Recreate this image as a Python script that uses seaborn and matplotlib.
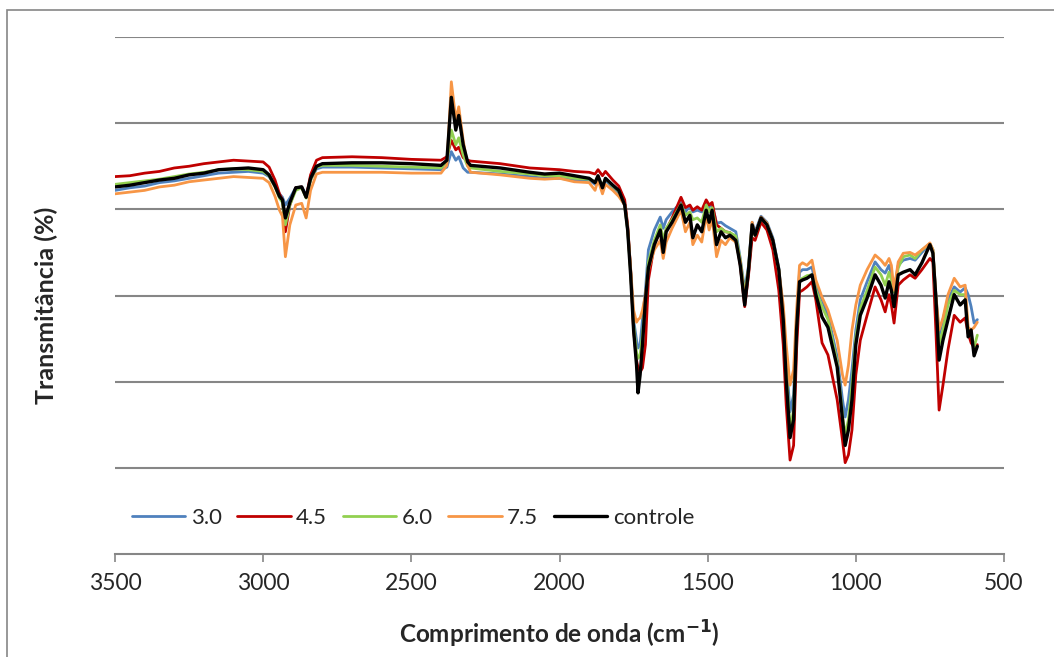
import matplotlib
matplotlib.use("Agg")
import matplotlib.pyplot as plt
import matplotlib.patches as mpatches
import seaborn as sns
import pandas as pd

wavenumber = [3500,3450,3400,3350,3300,3250,3200,3150,3100,3050,
              3000,2980,2960,2945,2935,2925,2910,2890,2870,2855,
              2840,2820,2800,2700,2600,2500,2400,2380,2365,2350,
              2340,2325,2310,2300,2200,2100,2050,2000,1950,1900,
              1880,1870,1855,1845,1820,1800,1780,1770,1760,1750,
              1740,1735,1728,1720,1710,1700,1680,1660,1650,1640,
              1620,1590,1575,1560,1550,1535,1520,1505,1495,1485,
              1470,1455,1440,1425,1405,1390,1375,1362,1350,1340,
              1320,1300,1280,1260,1245,1235,1222,1210,1200,1190,
              1180,1165,1148,1135,1114,1094,1063,1045,1036,1025,
              1013,1000,985,962,935,915,901,888,880,871,
              857,840,817,800,777,750,740,730,719,706,
              689,668,648,631,621,611,601,590]

t_3_0 = [42.2,42.5,42.7,43.1,43.3,43.6,43.9,44.2,44.3,44.4,
         44.2,43.8,42.7,41.8,41.4,40.5,41.3,42.5,42.6,41.7,
         43.4,44.7,44.9,44.9,44.8,44.7,44.6,44.9,46.7,45.7,
         46.1,44.8,44.3,44.3,44.1,43.8,43.6,43.6,43.4,43.4,
         42.9,43.6,42.2,43.4,42.5,41.9,40.5,37.6,33.0,27.2,
         24.8,23.9,24.3,27.2,30.6,35.3,37.6,39.1,37.8,38.8,
         39.7,40.8,39.7,40.4,39.7,39.9,39.7,40.8,40.3,40.5,
         38.4,38.5,38.1,37.8,37.4,34.3,30.6,33.5,38.5,37.4,
         39.2,38.5,36.7,33.2,28.1,22.5,16.5,18.5,27.2,32.7,
         33.0,33.0,33.3,31.2,29.5,27.7,22.9,17.9,15.9,17.9,
         21.4,26.0,29.5,31.6,33.9,33.0,32.6,33.5,32.4,30.6,
         33.5,34.1,34.3,34.1,35.0,36.0,35.3,30.1,25.4,27.2,
         29.5,31.0,30.4,30.9,30.1,28.7,26.8,27.2]

t_4_5 = [43.8,43.9,44.2,44.4,44.8,45.0,45.3,45.5,45.7,45.6,
         45.5,44.9,43.4,41.8,41.1,37.4,40.5,42.5,42.6,41.4,
         44.0,45.7,46.0,46.1,46.0,45.8,45.7,46.1,48.0,46.9,
         47.2,46.0,45.7,45.6,45.3,44.8,44.7,44.6,44.4,44.3,
         44.1,44.6,43.9,44.4,43.4,42.7,41.1,38.2,33.0,26.0,
         22.5,21.6,21.1,21.6,24.3,31.8,35.9,37.4,35.9,37.6,
         39.0,41.4,40.2,40.5,39.9,40.3,39.9,41.1,40.5,40.8,
         38.2,37.8,37.4,37.3,36.7,33.5,28.7,32.4,36.7,36.4,
         38.5,37.6,35.3,30.6,24.3,17.3,10.9,12.6,23.7,30.4,
         30.6,31.0,31.6,29.5,24.5,23.1,17.9,13.2,10.6,11.5,
         14.4,20.8,24.8,27.7,31.0,29.5,28.1,30.1,28.9,26.8,
         31.2,31.8,32.4,32.0,33.0,34.3,33.9,26.0,16.7,19.6,
         23.7,27.7,26.9,27.4,25.6,24.5,24.0,24.3]

t_6_0 = [42.9,43.1,43.3,43.5,43.8,44.1,44.3,44.6,44.7,44.6,
         44.4,43.9,42.6,41.3,40.8,38.2,40.5,42.2,42.5,41.3,
         43.4,44.9,45.1,45.1,45.0,44.9,44.8,45.5,49.2,47.5,
         48.3,46.3,45.0,44.8,44.4,44.1,43.9,43.9,43.6,43.5,
         43.2,43.8,42.7,43.6,42.7,42.1,40.5,37.6,32.7,26.6,
         23.4,22.7,23.1,25.4,29.5,33.9,36.4,38.2,36.4,37.8,
         38.8,40.6,39.3,39.7,38.8,39.0,38.5,40.5,39.7,40.2,
         37.4,37.8,37.4,37.3,36.9,34.1,30.1,33.2,38.2,37.0,
         39.0,38.3,36.4,33.0,27.4,21.4,14.4,16.7,26.6,31.8,
         32.0,32.3,32.4,30.6,28.7,27.2,22.2,16.1,13.8,15.6,
         19.6,25.1,28.5,30.6,33.3,32.4,31.2,32.7,31.8,30.4,
         33.2,34.5,34.7,34.3,35.3,36.0,35.3,29.7,24.3,26.0,
         28.9,30.6,30.1,30.1,26.0,25.6,24.0,25.4]

t_7_5 = [41.8,42.0,42.2,42.6,42.8,43.2,43.4,43.6,43.8,43.7,
         43.6,43.1,41.5,39.9,39.2,34.5,38.2,40.5,40.7,39.0,
         42.2,44.1,44.3,44.3,44.3,44.2,44.2,45.1,54.8,50.4,
         51.9,48.0,45.1,44.3,44.0,43.6,43.5,43.6,43.2,43.1,
         42.2,43.4,41.8,42.9,42.2,41.5,40.5,37.8,33.2,28.3,
         26.9,27.2,27.4,28.3,30.1,33.0,35.3,36.4,34.3,36.2,
         37.8,39.9,37.4,38.5,35.9,37.0,36.2,39.3,37.6,39.0,
         34.5,36.4,35.9,36.7,36.2,33.9,29.5,33.0,38.5,37.0,
         39.1,38.4,36.4,33.0,28.9,24.3,19.6,21.4,28.3,33.5,
         33.8,33.5,34.1,31.8,29.8,28.3,24.8,20.8,19.6,21.9,
         26.0,28.9,31.2,33.0,34.7,34.1,33.5,34.3,33.5,30.6,
         33.9,34.9,35.0,34.7,35.3,36.1,35.3,30.1,26.0,27.4,
         30.1,32.0,31.0,31.2,26.3,26.0,26.3,26.9]

t_controle = [42.6,42.8,43.1,43.4,43.6,44.0,44.2,44.6,44.7,44.8,
              44.6,44.0,42.7,41.5,41.1,39.0,40.8,42.5,42.6,41.4,
              43.6,45.0,45.3,45.4,45.4,45.3,45.1,45.7,53.0,49.2,
              50.9,47.5,45.5,45.1,44.8,44.3,44.1,44.2,43.9,43.6,
              43.1,43.9,42.5,43.6,42.8,42.2,40.5,37.6,32.4,26.0,
              21.9,18.7,20.8,24.3,29.5,33.2,35.9,37.6,35.0,37.4,
              38.5,40.5,38.5,39.3,36.7,38.2,37.4,39.9,38.5,39.9,
              35.9,37.4,36.7,37.0,36.4,33.5,28.9,33.0,38.2,37.0,
              39.0,38.2,36.4,33.0,27.2,20.2,13.5,15.6,26.0,31.6,
              31.8,32.0,32.4,30.1,27.5,26.3,21.7,15.6,12.6,14.4,
              17.9,24.3,27.7,29.7,32.4,31.2,29.7,31.6,30.6,28.7,
              32.4,32.7,33.0,32.4,33.8,35.9,34.9,29.8,22.5,24.8,
              27.2,30.1,28.9,29.5,25.2,26.0,23.0,24.1]

series_labels = ["3.0", "4.5", "6.0", "7.5", "controle"]
series_values = [t_3_0, t_4_5, t_6_0, t_7_5, t_controle]
series_colors = ["#4F81BD", "#C00000", "#92D050", "#F79646", "#000000"]
x_ticks = [3500, 3000, 2500, 2000, 1500, 1000, 500]

frames = []
for lab, vals in zip(series_labels, series_values):
    frames.append(pd.DataFrame({"wn": wavenumber, "T": vals, "serie": lab}))
df = pd.concat(frames, ignore_index=True)

sns.set_theme(style="white")
plt.rcParams["font.family"] = ["Lato", "DejaVu Sans"]

fig = plt.figure(figsize=(10.54, 6.57), dpi=100)
ax = fig.add_axes([115/1054, 1-554/657, 889/1054, 517/657])

grid_c = "#868686"
sns.lineplot(data=df, x="wn", y="T", hue="serie", hue_order=series_labels,
             palette=dict(zip(series_labels, series_colors)),
             sort=False, estimator=None, linewidth=2.0, legend=False, ax=ax)
ax.lines[4].set_linewidth(2.4)

ax.set_xlim(3500, 500)
ax.set_ylim(0, 60)
ax.set_xticks(x_ticks)
ax.set_xticklabels([str(v) for v in x_ticks], fontsize=16.5)
ax.set_yticks([10, 20, 30, 40, 50, 60])
ax.set_yticklabels([])
ax.tick_params(axis="y", length=0)
ax.tick_params(axis="x", direction="out", length=6, width=1.2, color=grid_c,
               pad=8, bottom=True)
ax.yaxis.grid(True, color=grid_c, linewidth=1.5)
ax.xaxis.grid(False)
ax.set_axisbelow(True)
for s in ["left", "right", "top"]:
    ax.spines[s].set_visible(False)
ax.spines["bottom"].set_color(grid_c)
ax.spines["bottom"].set_linewidth(1.5)

ax.set_xlabel("Comprimento de onda (cm$^{\\mathbf{-1}}$)", fontsize=17.5,
              fontweight="bold")
ax.set_ylabel("Transmitância (%)", fontsize=18, fontweight="bold")
ax.xaxis.set_label_coords(0.5, -0.126)
ax.yaxis.set_label_coords(-0.064, 0.48)

ax.legend(handles=ax.lines[:5], labels=series_labels, loc="center left",
          bbox_to_anchor=(0.019, 0.07), ncol=5, frameon=False, fontsize=16,
          handlelength=2.4, handletextpad=0.25, columnspacing=0.7,
          borderpad=0, borderaxespad=0)

fig.add_artist(mpatches.Rectangle((7/1054, -0.5), 2.0, 0.5 + 1 - 10/657,
                                  transform=fig.transFigure, fill=False,
                                  edgecolor=grid_c, linewidth=1.2))

fig.savefig("out.png", dpi=100)
